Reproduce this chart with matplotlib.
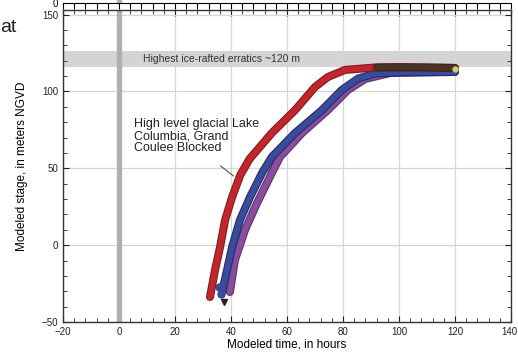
import matplotlib
matplotlib.use("Agg")
import matplotlib.pyplot as plt
import matplotlib.patheffects as pe
from matplotlib.transforms import ScaledTranslation

# ==========================================
# Data
# ==========================================

red_x = [32.5, 34.3, 36.1, 37.9, 40.4, 43.3, 46.6, 54.6, 62.9, 70.0, 74.6, 80.7, 91.4, 100.4, 120.0]
red_y = [-33.7, -16.2, -1.2, 16.4, 31.3, 45.5, 56.0, 73.0, 87.9, 102.9, 109.4, 114.0, 115.6, 115.8, 115.3]

blue_x = [36.8, 38.6, 40.4, 43.2, 46.8, 51.1, 54.6, 62.9, 72.5, 79.6, 85.4, 91.4, 100.4, 120.0]
blue_y = [-30.5, -16.2, -1.2, 16.4, 31.3, 47.0, 57.4, 73.0, 87.9, 101.0, 108.4, 111.6, 112.5, 112.7]

purple_x = [39.6, 41.4, 45.0, 49.3, 54.6, 57.5, 65.4, 74.6, 81.8, 87.9, 96.8, 120.0]
purple_y = [-30.5, -9.7, 9.9, 27.4, 47.0, 57.4, 73.0, 87.9, 101.0, 108.1, 112.0, 112.7]

green_x = [92.0, 100.0, 110.0, 120.0]
green_y = [115.6, 115.8, 115.7, 115.3]

band_low = 116
band_high = 126

x_major = [-20, 0, 20, 40, 60, 80, 100, 120, 140]
y_major = [-50, 0, 50, 100, 150]

# ==========================================
# Figure
# ==========================================

plt.rcParams["font.family"] = ["Liberation Sans", "DejaVu Sans"]

fig = plt.figure(figsize=(5.18, 3.63), dpi=100)
ax = fig.add_axes([63 / 518, 41 / 363, 448 / 518, 312 / 363])

ax.set_xlim(-20, 140)
ax.set_ylim(-50, 153)

ax.set_xticks(x_major)
ax.set_yticks(y_major)
ax.set_xticks(range(-20, 141, 4), minor=True)
ax.set_yticks(range(-50, 151, 10), minor=True)
ax.tick_params(which="both", direction="in", top=True, right=True, labelsize=7, colors="#222222")
ax.tick_params(which="major", length=4)
ax.tick_params(which="minor", length=3)
ax.grid(True, which="major", color="#d6d6d6", linewidth=0.9)
ax.set_axisbelow(True)
for s in ax.spines.values():
    s.set_color("#333333")
    s.set_linewidth(1.0)

# keep the "140" label inside the picture
last = ax.xaxis.get_major_ticks()[-1].label1
last.set_horizontalalignment("right")
last.set_transform(last.get_transform() + ScaledTranslation(0.06, 0, fig.dpi_scale_trans))

# gray band and zero line
ax.axhspan(band_low, band_high, color="#d4d4d4", zorder=0.5, lw=0)
ax.text(8.5, (band_low + band_high) / 2, "Highest ice-rafted erratics ~120 m",
        fontsize=7.5, va="center", ha="left", color="#333333")
ax.axvline(0, color="#b0b0b0", linewidth=3.8, zorder=0.6)

# curves
def band(x, y, col, edge, z, alpha=1.0):
    ax.plot(x, y, color=col, linewidth=4.2, solid_capstyle="round",
            solid_joinstyle="round", zorder=z, alpha=alpha,
            path_effects=[pe.Stroke(linewidth=5.8, foreground=edge, alpha=alpha), pe.Normal()])

band(purple_x, purple_y, "#8b4d9e", "#5f3070", 3)
band(blue_x, blue_y, "#3b4b9b", "#222e66", 4)
band(red_x, red_y, "#c0272d", "#86181d", 5)
band(green_x, green_y, "#3a3f28", "#1e2216", 5.5, alpha=0.6)

ax.plot([35.8, 36.6], [-27, -32], "o", color="#3b4b9b", markersize=5, zorder=4)
ax.plot([120], [114.5], "o", color="#c8d26a", markersize=3.5, zorder=6)
ax.plot([37.4], [-37.0], "v", color="#222222", markersize=4, zorder=6)

# annotation
ax.text(5.5, 83, "High level glacial Lake\nColumbia, Grand\nCoulee Blocked",
        fontsize=9, va="top", ha="left", color="#222222", linespacing=1.05)
ax.plot([36.3, 40.9], [51.5, 45.0], color="#555555", linewidth=0.8, zorder=6)

ax.set_xlabel("Modeled time, in hours", fontsize=8.5, labelpad=1)
ax.set_ylabel("Modeled stage, in meters NGVD", fontsize=8.5, labelpad=10)

# cut-off strip of the panel above
top = fig.add_axes([63 / 518, 360 / 363, 448 / 518, 0.2])
top.set_xlim(-20, 140)
top.set_ylim(0, 10)
top.set_xticks(range(-20, 141, 4))
top.set_xticklabels([])
top.set_yticks([0])
top.tick_params(axis="x", direction="out", length=4)
top.tick_params(axis="y", labelsize=7, length=0)
top.axvline(0, color="#b0b0b0", linewidth=3.8)
for s in ["top", "right", "left"]:
    top.spines[s].set_visible(False)
top.patch.set_alpha(0)

fig.text(0.0, 0.925, "at", fontsize=14, ha="left", va="center", color="#222222")

fig.savefig("out.png", dpi=100)
